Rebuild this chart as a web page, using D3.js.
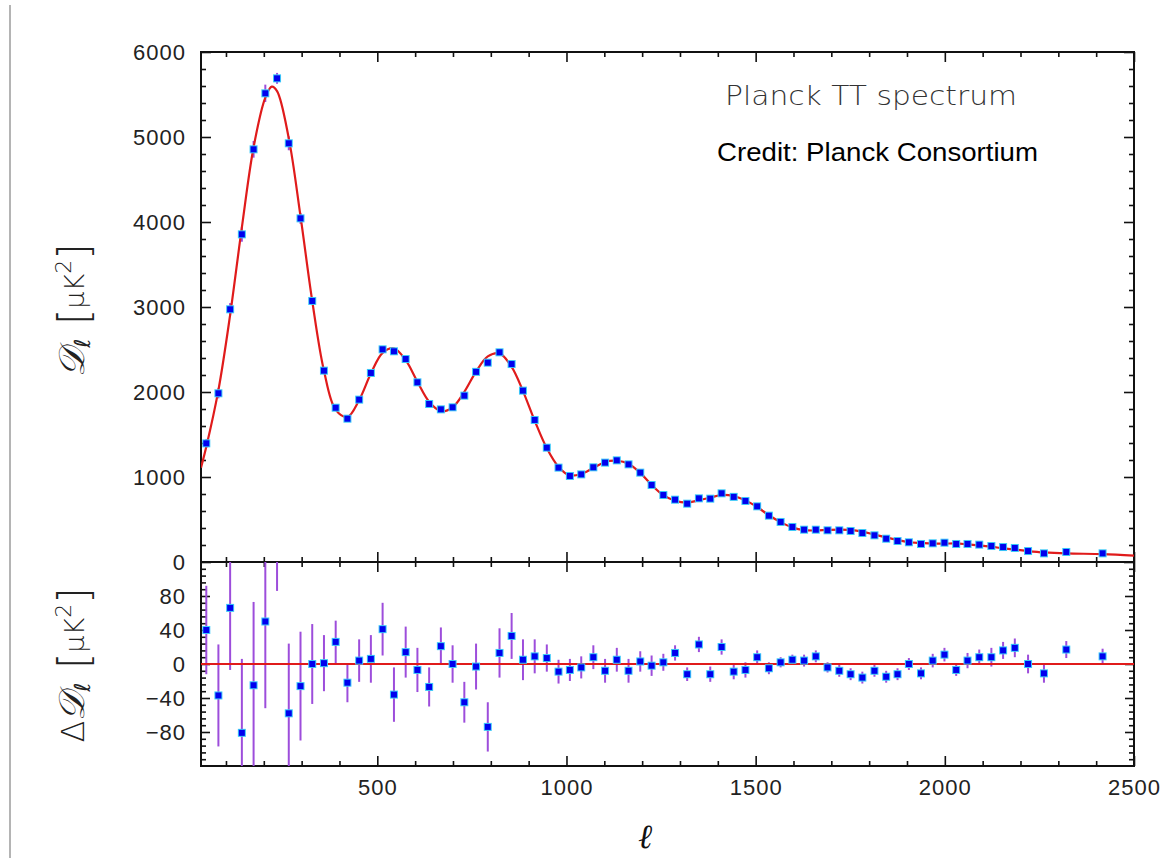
<!DOCTYPE html>
<html><head><meta charset="utf-8">
<script src="https://cdn.jsdelivr.net/npm/d3@7"></script>
<style>
html,body{margin:0;padding:0;background:#fff;}
svg{display:block;}
</style></head><body>
<svg id="c" width="1162" height="861"></svg>
<script>
// ---- data ----
const ell = [48,80,111,142,173,204,235,266,297,328,359,390,421,452,483,514,544,575,606,637,668,699,730,761,792,823,855,885,916,948,979,1009,1039,1071,1102,1133,1164,1195,1225,1256,1287,1319,1350,1380,1410,1442,1473,1504,1535,1566,1597,1628,1659,1690,1721,1751,1782,1814,1845,1875,1905,1937,1968,1999,2030,2060,2091,2123,2154,2185,2220,2262,2321,2417];
const dl = [1396,1985,2973,3855,4855,5514,5690,4926,4043,3071,2251,1815,1686,1910,2224,2502,2479,2388,2114,1859,1796,1820,1957,2237,2345,2467,2329,2016,1671,1345,1110,1012,1031,1114,1169,1196,1149,1051,906,788,733,686,749,745,808,766,718,655,545,471,412,380,380,373,373,365,341,314,274,247,232,212,220,227,212,212,204,188,176,165,129,102,118,102];
const resid = [40,-37,66,-81,-25,50,150,-58,-26,0,1,26,-22,4,6,41,-36,14,-7,-27,21,0,-45,-3,-74,13,33,5,9,7,-9,-7,-4,8,-8,5,-8,3,-2,2,13,-12,23,-12,20,-9,-7,8,-5,2,5,4,9,-4,-8,-12,-16,-8,-15,-12,0,-11,4,11,-7,4,8,8,16,19,0,-11,17,9];
const err = [52,60,73,87,98,102,64,82,64,47,33,25,23,25,28,31,32,30,26,23,22,22,24,27,29,29,27,24,20,16,14,13,13,14,14,14,14,12,12,10,9,8,9,9,9,9,9,8,7,6,6,7,7,6,7,7,7,7,7,7,7,7,8,8,7,9,9,11,10,11,11,11,10,9];
const modelEll = [34,48,80,111,142,173,204,221,235,266,297,328,359,390,421,452,483,514,544,575,606,637,668,699,730,761,792,823,855,885,916,948,979,1009,1039,1071,1102,1133,1164,1195,1225,1256,1287,1319,1350,1380,1410,1442,1473,1504,1535,1566,1597,1628,1659,1690,1721,1751,1782,1814,1845,1875,1905,1937,1968,1999,2030,2060,2091,2123,2154,2185,2220,2262,2321,2417,2500];
const modelDl = [1110,1356,2022,2907,3936,4880,5464,5592,5540,4984,4069,3071,2250,1789,1708,1906,2218,2461,2515,2374,2121,1886,1775,1820,2002,2240,2419,2454,2296,2011,1662,1338,1119,1019,1035,1106,1177,1191,1157,1048,907,786,720,698,726,757,788,775,725,647,550,469,407,375,371,377,381,377,357,322,289,259,232,223,216,216,219,208,196,180,160,146,129,113,101,93,76];
const xTickLabels = [500,1000,1500,2000,2500];
const yTopTickLabels = [0,1000,2000,3000,4000,5000,6000];
const yResTickLabels = [-80,-40,0,40,80];

// ---- layout ----
const L=201, R=1134, T=52, M=562, B=766;
const svg = d3.select('#c');
const x = d3.scaleLinear().domain([34,2500]).range([L,R]);
const yTop = d3.scaleLinear().domain([0,6000]).range([M,T]);
const yRes = d3.scaleLinear().domain([-120,120]).range([B,M]);

const xMinor = d3.range(100,2500,100).filter(v=>v%500!==0);
const yTopMinor = d3.range(200,6000,200).filter(v=>v%1000!==0);
const yResMinor = d3.range(-112,120,8).filter(v=>v%40!==0);

svg.append('line').attr('x1',10).attr('x2',10).attr('y1',5).attr('y2',858)
  .attr('stroke','#b4b4b4').attr('stroke-width',2);

const defs = svg.append('defs');
defs.append('clipPath').attr('id','clipTop').append('rect').attr('x',L).attr('y',T).attr('width',R-L).attr('height',M-T);
defs.append('clipPath').attr('id','clipRes').append('rect').attr('x',L).attr('y',M).attr('width',R-L).attr('height',B-M);

const font = "'Liberation Sans', Arial, sans-serif";
function styleAxis(g){
  g.select('.domain').remove();
  g.selectAll('.tick line').attr('stroke','#111').attr('stroke-width',1.6);
  g.selectAll('.tick text').attr('font-family',font).attr('font-size',22).attr('fill','#222').attr('letter-spacing','1px');
}
function addAxis(axis, tx, ty){
  svg.append('g').attr('transform',`translate(${tx},${ty})`).call(axis).call(styleAxis);
}
const none = ()=>'';
// top panel
addAxis(d3.axisLeft(yTop).tickValues(yTopTickLabels).tickSize(-10).tickPadding(15).tickFormat(d3.format('d')), L, 0);
addAxis(d3.axisLeft(yTop).tickValues(yTopMinor).tickSize(-5).tickFormat(none), L, 0);
addAxis(d3.axisRight(yTop).tickValues(yTopTickLabels).tickSize(-10).tickFormat(none), R, 0);
addAxis(d3.axisRight(yTop).tickValues(yTopMinor).tickSize(-5).tickFormat(none), R, 0);
addAxis(d3.axisTop(x).tickValues(xTickLabels).tickSize(-10).tickFormat(none), 0, T);
addAxis(d3.axisTop(x).tickValues(xMinor).tickSize(-5).tickFormat(none), 0, T);
addAxis(d3.axisBottom(x).tickValues(xTickLabels).tickSize(-10).tickFormat(none), 0, M);
addAxis(d3.axisBottom(x).tickValues(xMinor).tickSize(-5).tickFormat(none), 0, M);
// residual panel
addAxis(d3.axisTop(x).tickValues(xTickLabels).tickSize(-10).tickFormat(none), 0, M);
addAxis(d3.axisTop(x).tickValues(xMinor).tickSize(-5).tickFormat(none), 0, M);
addAxis(d3.axisBottom(x).tickValues(xTickLabels).tickSize(-10).tickPadding(13).tickFormat(d3.format('d')), 0, B);
addAxis(d3.axisBottom(x).tickValues(xMinor).tickSize(-5).tickFormat(none), 0, B);
addAxis(d3.axisLeft(yRes).tickValues(yResTickLabels).tickSize(-9).tickPadding(15), L, 0);
addAxis(d3.axisLeft(yRes).tickValues(yResMinor).tickSize(-5).tickFormat(none), L, 0);
addAxis(d3.axisRight(yRes).tickValues(yResTickLabels).tickSize(-9).tickFormat(none), R, 0);
addAxis(d3.axisRight(yRes).tickValues(yResMinor).tickSize(-5).tickFormat(none), R, 0);

// frames
svg.append('rect').attr('x',L).attr('y',T).attr('width',R-L).attr('height',M-T).attr('fill','none').attr('stroke','#111').attr('stroke-width',2);
svg.append('rect').attr('x',L).attr('y',M).attr('width',R-L).attr('height',B-M).attr('fill','none').attr('stroke','#111').attr('stroke-width',2);

const pts = ell.map((l,i)=>({l, d:dl[i], r:resid[i], e:err[i]}));
const ERR = '#9d4ddb';

// top panel content
const gTop = svg.append('g').attr('clip-path','url(#clipTop)');
gTop.selectAll('line.err').data(pts).join('line').attr('class','err')
  .attr('x1',d=>x(d.l)).attr('x2',d=>x(d.l))
  .attr('y1',d=>yTop(d.d-d.e)).attr('y2',d=>yTop(d.d+d.e))
  .attr('stroke',ERR).attr('stroke-width',2);
const modelPts = modelEll.map((l,i)=>[l, modelDl[i]]);
gTop.append('path').datum(modelPts)
  .attr('d', d3.line().x(d=>x(d[0])).y(d=>yTop(d[1])).curve(d3.curveCatmullRom.alpha(0.5)))
  .attr('fill','none').attr('stroke','#e01b1b').attr('stroke-width',2.2);
gTop.selectAll('rect.halo').data(pts).join('rect').attr('class','halo')
  .attr('x',d=>x(d.l)-4).attr('y',d=>yTop(d.d)-4).attr('width',8).attr('height',8).attr('fill','#3cc8f8');
gTop.selectAll('rect.core').data(pts).join('rect').attr('class','core')
  .attr('x',d=>x(d.l)-3).attr('y',d=>yTop(d.d)-3).attr('width',6).attr('height',6).attr('fill','#0000ee');

// residual panel content
const gRes = svg.append('g').attr('clip-path','url(#clipRes)');
gRes.selectAll('line.err').data(pts).join('line').attr('class','err')
  .attr('x1',d=>x(d.l)).attr('x2',d=>x(d.l))
  .attr('y1',d=>yRes(d.r-d.e)).attr('y2',d=>yRes(d.r+d.e))
  .attr('stroke',ERR).attr('stroke-width',2);
gRes.append('line').attr('x1',L).attr('x2',R).attr('y1',yRes(0)).attr('y2',yRes(0))
  .attr('stroke','#e01b1b').attr('stroke-width',2);
gRes.selectAll('rect.halo').data(pts).join('rect').attr('class','halo')
  .attr('x',d=>x(d.l)-4).attr('y',d=>yRes(d.r)-4).attr('width',8).attr('height',8).attr('fill','#3cc8f8');
gRes.selectAll('rect.core').data(pts).join('rect').attr('class','core')
  .attr('x',d=>x(d.l)-3).attr('y',d=>yRes(d.r)-3).attr('width',6).attr('height',6).attr('fill','#0000ee');

// titles
svg.append('text').attr('x',725).attr('y',105).attr('font-family',"'DejaVu Sans', sans-serif").attr('font-weight',200)
  .attr('font-size',26).attr('fill','#333').attr('textLength',292).attr('lengthAdjust','spacingAndGlyphs').text('Planck TT spectrum');
svg.append('text').attr('x',717).attr('y',161).attr('font-family',font)
  .attr('font-size',26).attr('fill','#000').attr('textLength',321).attr('lengthAdjust','spacingAndGlyphs').text('Credit: Planck Consortium');

// axis titles
function yTitle(cx, cy, delta){
  const t = svg.append('text').attr('transform',`translate(${cx},${cy}) rotate(-90)`)
    .attr('text-anchor','middle').attr('font-family',"'DejaVu Sans', sans-serif").attr('font-weight',200)
    .attr('font-size',27).attr('fill','#222');
  if (delta) t.append('tspan').attr('font-size',32).text('Δ');
  t.append('tspan').attr('font-family',"'DejaVu Serif', serif").attr('font-style','italic').attr('font-size',36).text('𝒟');
  t.append('tspan').attr('font-size',22).attr('font-style','italic').attr('dy',6).text('ℓ');
  t.append('tspan').attr('dy',-6).text('\u2002');
  t.append('tspan').attr('font-size',42).attr('dy',5).text('[');
  t.append('tspan').attr('dy',-5).text('μK');
  t.append('tspan').attr('font-size',22).attr('dy',-13).text('2');
  t.append('tspan').attr('font-size',42).attr('dy',18).text(']');
}
yTitle(84, 310, false);
yTitle(84, 665, true);
svg.append('text').attr('x',645).attr('y',848).attr('text-anchor','middle')
  .attr('font-family',"'DejaVu Serif', serif").attr('font-style','italic').attr('font-size',34).attr('fill','#111').text('ℓ');
</script>
</body></html>
